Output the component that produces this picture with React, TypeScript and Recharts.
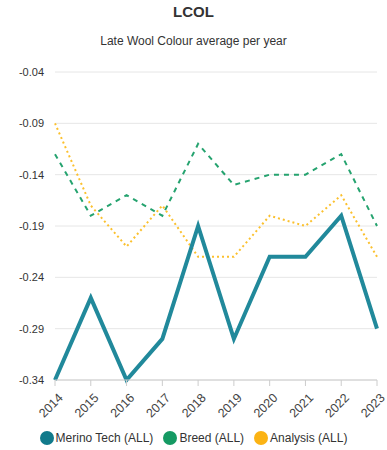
import React from "react";
import { LineChart, Line, XAxis, YAxis, CartesianGrid } from "recharts";

const years = ["2014", "2015", "2016", "2017", "2018", "2019", "2020", "2021", "2022", "2023"];
const merinoTech = [-0.34, -0.26, -0.34, -0.3, -0.19, -0.3, -0.22, -0.22, -0.18, -0.29];
const breed = [-0.12, -0.18, -0.16, -0.18, -0.11, -0.15, -0.14, -0.14, -0.12, -0.19];
const analysis = [-0.09, -0.17, -0.21, -0.17, -0.22, -0.22, -0.18, -0.19, -0.16, -0.22];
const yTicks = [-0.04, -0.09, -0.14, -0.19, -0.24, -0.29, -0.34];

const seriesNames = ["Merino Tech (ALL)", "Breed (ALL)", "Analysis (ALL)"];
const lineColors = ["#21899b", "#25a36f", "#fbc02d"];
const legendColors = ["#117a8b", "#159a63", "#fbb314"];

const data = years.map((y, i) => ({
  year: y,
  merino: merinoTech[i],
  breed: breed[i],
  analysis: analysis[i],
}));

const FONT = "'Liberation Sans', Arial, sans-serif";

const XTick = (props: any) => {
  const { x, y, payload } = props;
  return (
    <g transform={`translate(${x + 3},${y + 5})`}>
      <text
        x={0}
        y={0}
        dy={8}
        textAnchor="end"
        fill="#444"
        fontSize={12.5}
        fontFamily={FONT}
        transform="rotate(-45)"
      >
        {payload.value}
      </text>
    </g>
  );
};

export default function App() {
  return (
    <div style={{ position: "absolute", left: 0, top: 0, width: 387, height: 450, background: "#fff", fontFamily: FONT }}>
      <div style={{ position: "absolute", top: 3, width: 387, textAlign: "center", fontSize: 15, fontWeight: "bold", color: "#333" }}>
        LCOL
      </div>
      <div style={{ position: "absolute", top: 34, width: 387, textAlign: "center", fontSize: 12, color: "#333" }}>
        Late Wool Colour average per year
      </div>
      <LineChart width={387} height={450} data={data} margin={{ top: 72, right: 10, left: 0, bottom: 0 }}>
        <CartesianGrid vertical={false} stroke="#e6e6e6" strokeWidth={1} />
        <XAxis
          dataKey="year"
          height={70}
          interval={0}
          axisLine={{ stroke: "#ccc" }}
          tickLine={{ stroke: "#ccc" }}
          tick={<XTick />}
        />
        <YAxis
          width={55}
          domain={[-0.34, -0.04]}
          ticks={yTicks}
          axisLine={false}
          tickLine={false}
          tickMargin={5}
          tick={{ fill: "#333", fontSize: 11, fontFamily: FONT }}
          tickFormatter={(v: number) => v.toFixed(2)}
        />
        <Line dataKey="breed" stroke={lineColors[1]} strokeWidth={2} strokeDasharray="5 5" dot={false} isAnimationActive={false} />
        <Line dataKey="analysis" stroke={lineColors[2]} strokeWidth={2} strokeDasharray="2 3" dot={false} isAnimationActive={false} />
        <Line dataKey="merino" stroke={lineColors[0]} strokeWidth={4} dot={false} isAnimationActive={false} strokeLinejoin="miter" />
      </LineChart>
      <div style={{ position: "absolute", top: 431, width: 387, display: "flex", justifyContent: "center", fontSize: 12, color: "#333" }}>
        {seriesNames.map((n, i) => (
          <div key={n} style={{ display: "flex", alignItems: "center", marginRight: i < 2 ? 10 : 0 }}>
            <span style={{ display: "inline-block", width: 14, height: 14, borderRadius: "50%", background: legendColors[i], marginRight: 2 }} />
            <span>{n}</span>
          </div>
        ))}
      </div>
    </div>
  );
}
